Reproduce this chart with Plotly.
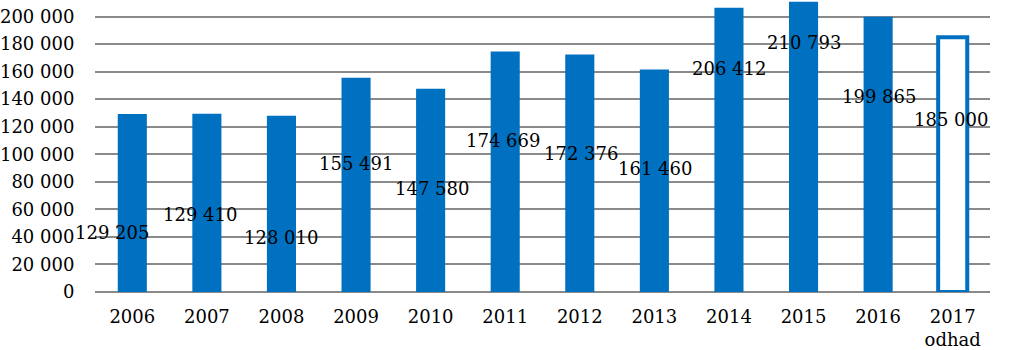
import plotly.graph_objects as go

years = ["2006", "2007", "2008", "2009", "2010", "2011", "2012", "2013", "2014", "2015", "2016", "2017<br>odhad"]
values = [129205, 129410, 128010, 155491, 147580, 174669, 172376, 161460, 206412, 210793, 199865, 185000]
is_estimate = [False] * 11 + [True]
tick_vals = list(range(0, 200001, 20000))
tick_text = [f"{v:,}".replace(",", " ") for v in tick_vals]

# label placement (data units) and horizontal shifts (px)
label_y = [43560, 56600, 39900, 93600, 75500, 110300, 100900, 90000, 162600, 180800, 141600, 124900]
label_dx = [-20, -7, 0, 0, 1, -2, 1, 1, 0, 0, 1, -2]

BLUE = "#0070C0"
GRID = "#8A8A8A"
FONT = "DejaVu Serif"
idx = list(range(len(years)))

fig = go.Figure()
fig.add_trace(go.Bar(
    x=idx,
    y=values,
    width=0.39,
    marker=dict(
        color=["white" if e else BLUE for e in is_estimate],
        line=dict(color=BLUE, width=[4 if e else 0 for e in is_estimate]),
    ),
    customdata=years,
    hovertemplate="%{customdata}: %{y}<extra></extra>",
))

for i, v, ly, dx in zip(idx, values, label_y, label_dx):
    fig.add_annotation(
        x=i, y=ly, text=f"{v:,}".replace(",", " "),
        showarrow=False, xshift=dx,
        font=dict(family=FONT, size=18, color="black"),
    )

fig.update_layout(
    width=1023, height=350,
    margin=dict(l=95, r=33, t=0, b=58, autoexpand=False),
    paper_bgcolor="white", plot_bgcolor="white",
    showlegend=False,
    font=dict(family=FONT, size=18, color="black"),
)
fig.update_xaxes(
    range=[-0.5, len(years) - 0.5],
    tickvals=idx, ticktext=years,
    showgrid=False, showline=False, zeroline=False,
    ticks="outside", ticklen=8, tickcolor="rgba(0,0,0,0)",
    tickfont=dict(family=FONT, size=18),
    automargin=False,
)
fig.update_yaxes(
    range=[0, 212000], tickvals=tick_vals, ticktext=tick_text,
    showgrid=True, gridcolor=GRID, gridwidth=1.6,
    zeroline=True, zerolinecolor=GRID, zerolinewidth=1.6,
    showline=False,
    ticks="outside", ticklen=16, tickcolor="rgba(0,0,0,0)",
    tickfont=dict(family=FONT, size=18),
    automargin=False,
)

fig.write_html("out.html", config={"displayModeBar": False},
               post_script="document.body.style.margin='0';")
